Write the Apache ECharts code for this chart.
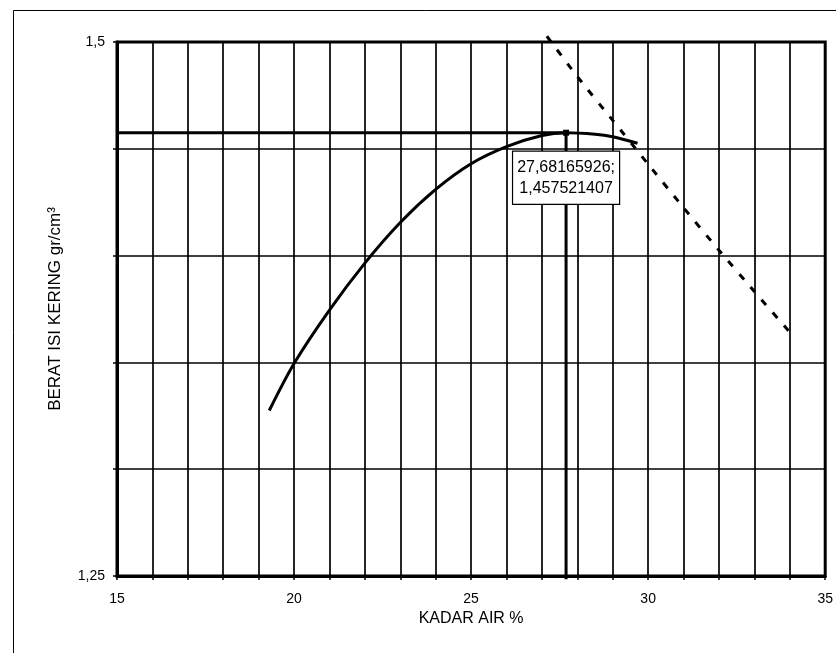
<!DOCTYPE html>
<html>
<head>
<meta charset="utf-8">
<script src="https://cdn.jsdelivr.net/npm/echarts@6/dist/echarts.min.js"></script>
<style>
  html, body { margin: 0; padding: 0; background: #fff; }
  #chart { width: 836px; height: 653px; }
</style>
</head>
<body>
<div id="chart"></div>
<script>
// kurva pemadatan
const curveX = [19.3, 20, 21, 22, 23, 24, 25, 26, 27, 27.68, 28.5, 29.0, 29.7];
const curveY = [1.3275, 1.3495, 1.3745, 1.3965, 1.4155, 1.431, 1.443, 1.451, 1.4562, 1.4575, 1.4568, 1.4556, 1.4526];
// garis ZAV (putus-putus)
const zavX = [27.14, 28, 29, 30, 31, 32, 33, 34];
const zavY = [1.5027, 1.4838, 1.4633, 1.4428, 1.4224, 1.4025, 1.3832, 1.3641];
// titik puncak
const peakX = 27.68165926;
const peakY = 1.457521407;
// label sumbu
const xLabels = [15, 20, 25, 30, 35];
const yLabels = [1.25, 1.5];

const fontFamily = "'Liberation Sans', Arial, sans-serif";
const toKoma = v => String(v).replace(".", ",");

const chart = echarts.init(document.getElementById("chart"));

const option = {
  backgroundColor: "#fff",
  animation: false,
  textStyle: { fontFamily },
  graphic: [
    {
      // bingkai luar (kiri dan atas saja)
      type: "polyline",
      shape: { points: [[13.5, 660], [13.5, 10.5], [840, 10.5]] },
      style: { fill: "none", stroke: "#000", lineWidth: 1 },
      silent: true
    }
  ],
  grid: {
    left: 117,
    right: 9,
    top: 42,
    bottom: 77,
    show: true,
    borderColor: "#000",
    borderWidth: 3
  },
  xAxis: {
    type: "value",
    min: 15,
    max: 35,
    interval: 1,
    name: "KADAR AIR %",
    nameLocation: "middle",
    nameGap: 32,
    nameTextStyle: { fontSize: 16, color: "#000", fontFamily },
    axisLine: { show: true, lineStyle: { color: "#000", width: 3 } },
    axisTick: { show: true, length: 4, lineStyle: { color: "#000", width: 1.5 } },
    axisLabel: {
      fontSize: 14,
      color: "#000",
      margin: 16,
      fontFamily,
      formatter(v) {
        return xLabels.indexOf(v) >= 0 ? String(v) : "";
      }
    },
    splitLine: { show: true, lineStyle: { color: "#000", width: 1.7 } }
  },
  yAxis: {
    type: "value",
    min: 1.25,
    max: 1.5,
    interval: 0.05,
    name: "BERAT ISI KERING gr/cm³",
    nameLocation: "middle",
    nameGap: 53,
    nameTextStyle: { fontSize: 17, color: "#000", fontFamily },
    axisLine: { show: true, lineStyle: { color: "#000", width: 3 } },
    axisTick: { show: true, length: 4, lineStyle: { color: "#000", width: 1.5 } },
    axisLabel: {
      fontSize: 14,
      color: "#000",
      margin: 12,
      fontFamily,
      formatter(v) {
        const hit = yLabels.find(t => Math.abs(t - v) < 1e-9);
        return hit !== undefined ? toKoma(hit) : "";
      }
    },
    splitLine: { show: true, lineStyle: { color: "#000", width: 1.7 } }
  },
  series: [
    {
      name: "ZAV",
      type: "line",
      data: zavX.map((x, i) => [x, zavY[i]]),
      smooth: 0.2,
      symbol: "none",
      clip: false,
      lineStyle: { color: "#000", width: 3, type: [7, 10] },
      z: 3
    },
    {
      name: "Kurva",
      type: "line",
      data: curveX.map((x, i) => [x, curveY[i]]),
      smooth: 0.3,
      symbol: "none",
      lineStyle: { color: "#000", width: 3 },
      z: 4
    },
    {
      name: "Garis puncak",
      type: "line",
      data: [[15, peakY], [peakX, peakY], [peakX, 1.2485]],
      symbol: "none",
      clip: false,
      lineStyle: { color: "#000", width: 3 },
      z: 4
    },
    {
      name: "Puncak",
      type: "scatter",
      data: [[peakX, peakY]],
      symbol: "rect",
      symbolSize: 6,
      itemStyle: { color: "#000", opacity: 1 },
      label: {
        show: true,
        position: "bottom",
        distance: 16,
        formatter: toKoma(peakX) + ";\n" + toKoma(peakY),
        fontSize: 16,
        lineHeight: 21,
        color: "#000",
        opacity: 1,
        textBorderWidth: 0,
        fontFamily,
        backgroundColor: "#fff",
        borderColor: "#000",
        borderWidth: 1.2,
        padding: [5, 4, 5, 4]
      },
      z: 10
    }
  ]
};

chart.setOption(option);
</script>
</body>
</html>
